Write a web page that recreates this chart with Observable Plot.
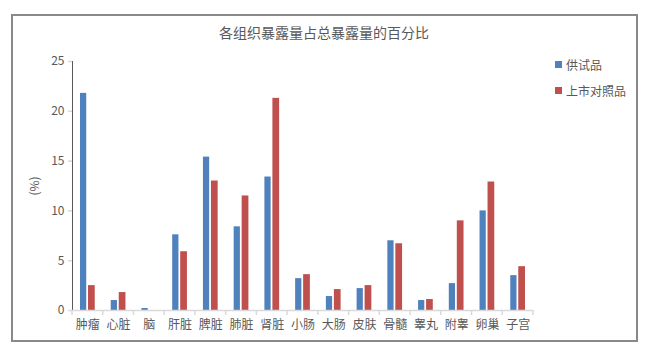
<!DOCTYPE html>
<html><head><meta charset="utf-8">
<script src="https://cdn.jsdelivr.net/npm/d3@7"></script>
<script src="https://cdn.jsdelivr.net/npm/@observablehq/plot@0.6"></script>
<style>
body{margin:0;background:#fff;font-family:"Noto Sans CJK SC","Noto Sans",sans-serif;}
#wrap{position:relative;width:648px;height:352px;overflow:hidden;}
#box{position:absolute;left:11px;top:14px;width:623px;height:324px;border:2px solid #898989;}
#title{position:absolute;left:0;width:648px;top:22px;text-align:center;font-size:14px;color:#595959;}
#legend{position:absolute;left:555px;top:51px;font-size:12px;color:#595959;}
.li{display:flex;align-items:center;height:26px;}
.sw{width:7px;height:7px;margin-right:4px;}
#chart{position:absolute;left:0;top:0;}
</style></head>
<body><div id="wrap"><div id="box"></div><div id="title"></div><div id="legend"></div><div id="chart"></div></div>
<script>
const title = "各组织暴露量占总暴露量的百分比";
const categories = ["肿瘤","心脏","脑","肝脏","脾脏","肺脏","肾脏","小肠","大肠","皮肤","骨髓","睾丸","附睾","卵巢","子宫"];
const seriesNames = ["供试品","上市对照品"];
const colors = ["#4f81bd","#c0504d"];
const testValues = [21.8,1.0,0.2,7.6,15.4,8.4,13.4,3.2,1.4,2.2,7.0,1.0,2.7,10.0,3.5];
const refValues  = [2.5,1.8,0.0,5.9,13.0,11.5,21.3,3.6,2.1,2.5,6.7,1.1,9.0,12.9,4.4];
const yTicks = [0,5,10,15,20,25];
const yLabel = "(%)";

document.getElementById("title").textContent = title;
const leg = document.getElementById("legend");
seriesNames.forEach((s,i)=>{
  const d = document.createElement("div"); d.className="li";
  d.innerHTML = `<span class="sw" style="background:${colors[i]}"></span><span>${s}</span>`;
  leg.appendChild(d);
});

const data = [];
categories.forEach((c,i)=>{
  data.push({cat:c, series:seriesNames[0], v:testValues[i]});
  data.push({cat:c, series:seriesNames[1], v:refValues[i]});
});

const chart = Plot.plot({
  width:648, height:352,
  marginLeft:72, marginRight:115, marginTop:61, marginBottom:42,
  style:{fontSize:"12px", color:"#595959", fontFamily:'"Noto Sans CJK SC","Noto Sans",sans-serif', background:"transparent"},
  x:{domain:categories, padding:0, round:false, tickSize:0, tickPadding:10, label:null},
  y:{domain:[0,25], ticks:yTicks, tickSize:4, tickPadding:4, label:yLabel, labelAnchor:"center", labelOffset:42, line:true},
  color:{domain:seriesNames, range:colors},
  marks:[
    Plot.barY(data.filter(d=>d.series===seriesNames[0]), {x:"cat", y:"v", fill:"series", insetLeft:8, insetRight:16.5}),
    Plot.barY(data.filter(d=>d.series===seriesNames[1]), {x:"cat", y:"v", fill:"series", insetLeft:16, insetRight:8}),
    Plot.ruleY([0], {stroke:"#d9d9d9", strokeWidth:1.5})
  ]
});
const svg = d3.select(chart);
svg.selectAll("g[aria-label^='y-axis'] path, g[aria-label^='y-axis'] line").attr("stroke","#d9d9d9").attr("stroke-opacity",1).attr("stroke-width",1.5);
svg.selectAll("text").each(function(){ if (this.textContent.includes(yLabel)) this.textContent = yLabel; });
// category boundary ticks using the x scale
const xs = chart.scale("x");
const ys = chart.scale("y");
const bw = xs.bandwidth;
const bounds = categories.map(c=>xs.apply(c)).concat([xs.apply(categories[categories.length-1])+bw]);
const g = svg.append("g");
bounds.forEach(b=>{
  g.append("line").attr("x1",b).attr("x2",b).attr("y1",ys.apply(0)).attr("y2",ys.apply(0)+5).attr("stroke","#d9d9d9").attr("stroke-width",1.5);
});
document.getElementById("chart").appendChild(chart);
</script></body></html>
